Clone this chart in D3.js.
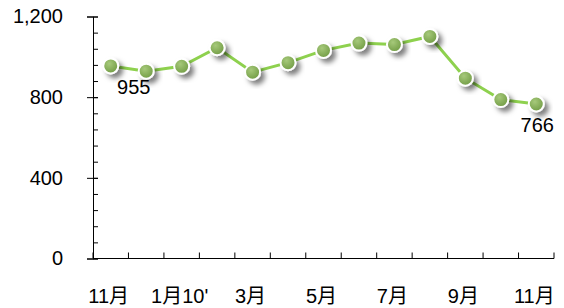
<!DOCTYPE html>
<html>
<head>
<meta charset="utf-8">
<title>chart</title>
<script src="https://d3js.org/d3.v7.min.js"></script>
<style>
  body { margin: 0; background: #fff; }
  text { font-family: "Liberation Sans", Arial, "Noto Sans CJK SC", sans-serif; fill: #000; }
</style>
</head>
<body>
<script>
// data
const months = ["11月", "12月", "1月10'", "2月", "3月", "4月", "5月", "6月", "7月", "8月", "9月", "10月", "11月"];
const values = [955, 929, 953, 1045, 924, 971, 1032, 1068, 1061, 1101, 894, 788, 766];
const yMajor = [0, 400, 800, 1200];
const yMinor = d3.range(0, 1201, 80);
const shownLabels = [0, 2, 4, 6, 8, 10, 12];   // every other category label
const valueLabels = [0, 12];                   // points with a data label

const svgWidth = 564, svgHeight = 308;

const svg = d3.select("body").append("svg")
    .attr("width", svgWidth)
    .attr("height", svgHeight);

const defs = svg.append("defs");
const grad = defs.append("radialGradient")
    .attr("id", "dot")
    .attr("cx", "40%").attr("cy", "35%").attr("r", "70%");
grad.append("stop").attr("offset", "0%").attr("stop-color", "#a6c97a");
grad.append("stop").attr("offset", "100%").attr("stop-color", "#6f9a42");

const shadow = defs.append("filter").attr("id", "shadow")
    .attr("x", "-60%").attr("y", "-60%").attr("width", "220%").attr("height", "220%");
shadow.append("feDropShadow")
    .attr("dx", 4).attr("dy", 4).attr("stdDeviation", 2.5)
    .attr("flood-color", "#000").attr("flood-opacity", 0.5);

// scales
const x = d3.scaleBand()
    .domain(d3.range(months.length))
    .range([93, 554]);

const y = d3.scaleLinear()
    .domain([0, 1200])
    .range([258.5, 16.5]);

// y axis: minor ticks inside, major ticks crossing
svg.append("g")
    .attr("transform", "translate(93,0)")
    .call(d3.axisRight(y).tickValues(yMinor).tickSize(5).tickFormat(""))
    .call(g => g.select(".domain").remove());

svg.append("g")
    .attr("transform", "translate(93,0)")
    .call(d3.axisLeft(y).tickValues(yMajor).tickSize(6).tickPadding(24)
        .tickFormat(d3.format(",")))
    .call(g => g.selectAll("text").style("font-size", "20px"))
    .call(g => g.selectAll(".tick line").attr("x2", -6).attr("x1", 5));

// x axis: ticks between categories pointing up
const xTicks = d3.range(months.length + 1).map(i => 93 + i * x.step());
const xAxis = svg.append("g");
xAxis.append("line")
    .attr("x1", 93).attr("x2", 554)
    .attr("y1", y(0)).attr("y2", y(0))
    .attr("stroke", "#000");
xAxis.selectAll("line.tk")
    .data(xTicks)
    .join("line")
    .attr("class", "tk")
    .attr("x1", d => d).attr("x2", d => d)
    .attr("y1", y(0)).attr("y2", y(0) - 6)
    .attr("stroke", "#000");
xAxis.selectAll("text")
    .data(shownLabels)
    .join("text")
    .attr("x", i => x(i) + x.bandwidth() / 2 - 2)
    .attr("y", 303)
    .attr("text-anchor", "middle")
    .style("font-size", "20px")
    .text(i => months[i]);

// line
const line = d3.line()
    .x((d, i) => x(i) + x.bandwidth() / 2)
    .y(d => y(d));

svg.append("path")
    .datum(values)
    .attr("d", line)
    .attr("fill", "none")
    .attr("stroke", "#8ed14e")
    .attr("stroke-width", 3);

// markers
svg.append("g")
    .selectAll("circle")
    .data(values)
    .join("circle")
    .attr("cx", (d, i) => x(i) + x.bandwidth() / 2)
    .attr("cy", d => y(d))
    .attr("r", 7.5)
    .attr("fill", "url(#dot)")
    .attr("stroke", "#fff")
    .attr("stroke-width", 2)
    .attr("filter", "url(#shadow)");

// data labels
svg.append("g")
    .selectAll("text")
    .data(valueLabels)
    .join("text")
    .attr("x", i => x(i) + x.bandwidth() / 2 + (i === 0 ? 23 : 1))
    .attr("y", i => y(values[i]) + 28)
    .attr("text-anchor", "middle")
    .style("font-size", "20px")
    .text(i => values[i]);
</script>
</body>
</html>
